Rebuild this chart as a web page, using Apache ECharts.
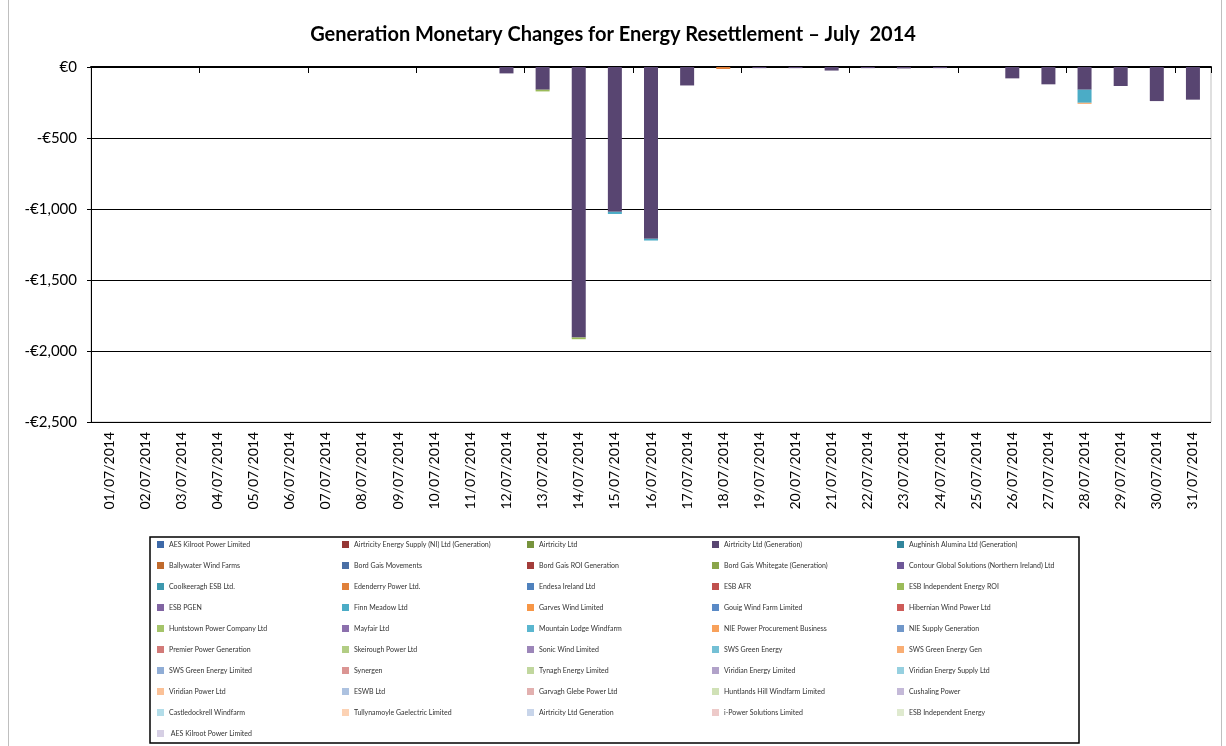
<!DOCTYPE html>
<html>
<head>
<meta charset="utf-8">
<title>Generation Monetary Changes for Energy Resettlement – July 2014</title>
<script src="https://cdn.jsdelivr.net/npm/echarts@6/dist/echarts.min.js"></script>
<style>
  html, body { margin: 0; padding: 0; background: #fff; }
  #chart { width: 1226px; height: 746px; }
</style>
</head>
<body>
<div id="chart"></div>
<script>
// settlement days, July 2014
const days = [
  '01/07/2014', '02/07/2014', '03/07/2014', '04/07/2014', '05/07/2014', '06/07/2014', '07/07/2014', '08/07/2014',
  '09/07/2014', '10/07/2014', '11/07/2014', '12/07/2014', '13/07/2014', '14/07/2014', '15/07/2014', '16/07/2014',
  '17/07/2014', '18/07/2014', '19/07/2014', '20/07/2014', '21/07/2014', '22/07/2014', '23/07/2014', '24/07/2014',
  '25/07/2014', '26/07/2014', '27/07/2014', '28/07/2014', '29/07/2014', '30/07/2014', '31/07/2014'
]

// participants as they appear in the legend
const participants = [
  'AES Kilroot Power Limited', 'Airtricity Energy Supply (NI) Ltd (Generation)', 'Airtricity Ltd', 'Airtricity Ltd (Generation)', 'Aughinish Alumina Ltd (Generation)',
  'Ballywater Wind Farms', 'Bord Gais Movements', 'Bord Gais ROI Generation', 'Bord Gais Whitegate (Generation)', 'Contour Global Solutions (Northern Ireland) Ltd',
  'Coolkeeragh ESB Ltd.', 'Edenderry Power Ltd.', 'Endesa Ireland Ltd', 'ESB AFR', 'ESB Independent Energy ROI',
  'ESB PGEN', 'Finn Meadow Ltd', 'Garves Wind Limited', 'Gouig Wind Farm Limited', 'Hibernian Wind Power Ltd',
  'Huntstown Power Company Ltd', 'Mayfair Ltd', 'Mountain Lodge Windfarm', 'NIE Power Procurement Business', 'NIE Supply Generation',
  'Premier Power Generation', 'Skeirough Power Ltd', 'Sonic Wind Limited', 'SWS Green Energy', 'SWS Green Energy Gen',
  'SWS Green Energy Limited', 'Synergen', 'Tynagh Energy Limited', 'Viridian Energy Limited', 'Viridian Energy Supply Ltd',
  'Viridian Power Ltd', 'ESWB Ltd', 'Garvagh Glebe Power Ltd', 'Huntlands Hill Windfarm Limited', 'Cushaling Power',
  'Castledockrell Windfarm', 'Tullynamoyle Gaelectric Limited', 'Airtricity Ltd Generation', 'i-Power Solutions Limited', 'ESB Independent Energy',
  ' AES Kilroot Power Limited'
]

// € per day, only participants with non-zero changes
const airtricityGeneration = [0, 0, 0, 0, 0, 0, 0, 0, 0, 0, 0, -45, -160, -1905, -1020, -1210, -130, 0, -8, -8, -25, -8, -10, -8, 0, -80, -122, -160, -134, -240, -230]
const finnMeadow = [0, 0, 0, 0, 0, 0, 0, 0, 0, 0, 0, 0, 0, 0, -15, -12, 0, 0, 0, 0, 0, 0, 0, 0, 0, 0, 0, -92, 0, 0, 0]
const esbIndependentRoi = [0, 0, 0, 0, 0, 0, 0, 0, 0, 0, 0, 0, -12, -12, 0, 0, 0, 0, 0, 0, 0, 0, 0, 0, 0, 0, 0, 0, 0, 0, 0]
const edenderry = [0, 0, 0, 0, 0, 0, 0, 0, 0, 0, 0, 0, 0, 0, 0, 0, 0, -14, 0, 0, 0, 0, 0, 0, 0, 0, 0, 0, 0, 0, 0]
const swsGreenGen = [0, 0, 0, 0, 0, 0, 0, 0, 0, 0, 0, 0, 0, 0, 0, 0, 0, 0, 0, 0, 0, 0, 0, 0, 0, 0, 0, -8, 0, 0, 0]

const seriesValues = {
  'Airtricity Ltd (Generation)': airtricityGeneration,
  'Finn Meadow Ltd': finnMeadow,
  'ESB Independent Energy ROI': esbIndependentRoi,
  'Edenderry Power Ltd.': edenderry,
  'SWS Green Energy Gen': swsGreenGen
}

const yTicks = { min: -2500, max: 0, step: 500 }

// excel-like palette, one per participant
const palette = [
  '#3d69a8', '#953735', '#77933c', '#584571', '#31859c',
  '#c06a2c', '#4a6fa5', '#a33c3a', '#8aa54a', '#6e5798',
  '#3d98ae', '#e0803a', '#4f81bd', '#c0504d', '#9bbb59',
  '#8064a2', '#4bacc6', '#f79646', '#5a8ac6', '#cd5b58',
  '#a5c46a', '#8c70ad', '#5ab6cf', '#f8a15b', '#7097c9',
  '#d27a78', '#b2cd84', '#9c86b9', '#74c0d5', '#f9ae74',
  '#90add6', '#db9593', '#c1d79e', '#b1a2c9', '#96d0e0',
  '#fbc197', '#adc2e0', '#e2b0af', '#d0e1b6', '#c4b9d8',
  '#b3dde9', '#fcd2b4', '#c8d5ea', '#edcac9', '#dfeacf',
  '#d6cfe4'
]

const chart = echarts.init(document.getElementById('chart'))

const series = participants.map((name, i) => ({
  name: name,
  type: 'bar',
  stack: 'total',
  xAxisIndex: 0,
  barWidth: 14,
  itemStyle: { color: palette[i] },
  emphasis: { disabled: true },
  data: seriesValues[name] || []
}))

const euro = v => v === 0 ? '€0' : '-€' + Math.abs(v).toLocaleString('en-US')

const option = {
  animation: false,
  textStyle: { fontFamily: 'Lato' },
  title: {
    text: 'Generation Monetary Changes for Energy Resettlement – July  2014',
    left: 'center',
    top: 20,
    textStyle: { fontFamily: 'Lato', fontWeight: 'bold', fontSize: 20, color: '#000' }
  },
  graphic: [{
    type: 'rect',
    shape: { x: 8.5, y: -1, width: 1213, height: 748 },
    style: { fill: 'none', stroke: '#bfbfbf', lineWidth: 1 },
    silent: true
  }],
  grid: {
    left: 91,
    right: 15,
    top: 67,
    bottom: 324,
    show: true,
    borderColor: '#bfbfbf',
    borderWidth: 1
  },
  legend: {
    left: 150,
    top: 537,
    width: 930,
    padding: [2, 7, 4, 7],
    itemGap: 10,
    itemWidth: 7,
    itemHeight: 7,
    icon: 'rect',
    borderColor: '#000',
    borderWidth: 1.5,
    textStyle: {
      fontSize: 7,
      lineHeight: 11,
      color: '#333',
      width: 163,
      overflow: 'truncate',
      ellipsis: ''
    },
    data: participants
  },
  xAxis: [
    {
      type: 'category',
      data: days,
      position: 'bottom',
      axisLine: { show: false, onZero: false },
      axisTick: { show: false },
      axisLabel: { interval: 0, rotate: 90, margin: 10, fontSize: 14, color: '#000' }
    },
    {
      type: 'category',
      data: days,
      position: 'top',
      axisLine: { show: true, onZero: false, lineStyle: { color: '#000', width: 2 } },
      axisTick: { show: true, inside: true, length: 6, lineStyle: { color: '#000' } },
      axisLabel: { show: false }
    }
  ],
  yAxis: {
    type: 'value',
    min: yTicks.min,
    max: yTicks.max,
    interval: yTicks.step,
    axisLine: { show: true, lineStyle: { color: '#000' } },
    axisTick: { show: true, length: 4, lineStyle: { color: '#000' } },
    axisLabel: { formatter: euro, fontSize: 15, color: '#000', margin: 14 },
    splitLine: { show: true, lineStyle: { color: '#000', width: 1 } }
  },
  series: series
}

chart.setOption(option)
</script>
</body>
</html>
